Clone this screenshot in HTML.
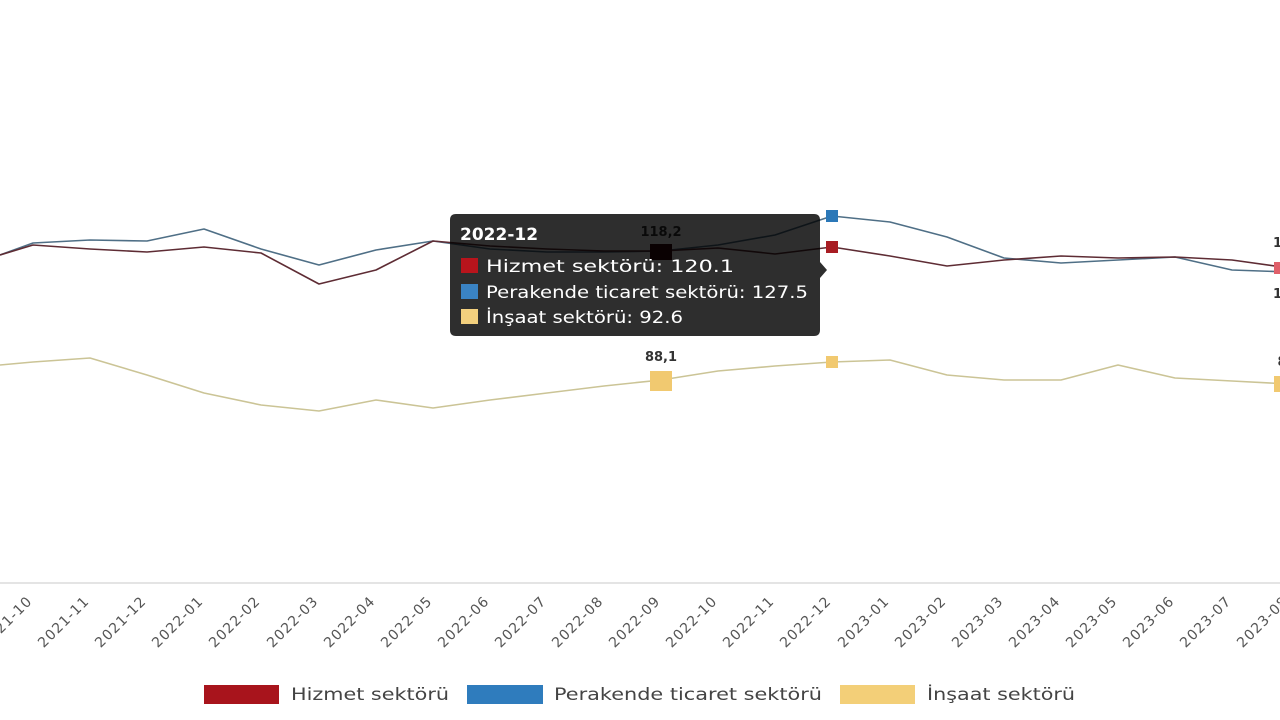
<!DOCTYPE html>
<html><head><meta charset="utf-8"><style>
html,body{margin:0;padding:0;background:#fff;width:1280px;height:720px;overflow:hidden}
svg{display:block;font-family:"DejaVu Sans","Liberation Sans",sans-serif}
</style></head><body>
<svg width="1280" height="720" viewBox="0 0 1280 720">
<line x1="0" y1="583" x2="1280" y2="583" stroke="#e4e4e4" stroke-width="2"/>
<g fill="none" stroke-width="1.6" stroke-linejoin="round">
<polyline stroke="#4f6f86" points="0,255 33,243 90,240 147,241 204,229 261,249 319,265 376,250 433,241 490,249 547,252 604,252 661,251 718,245 775,235 832,216 890,222 947,237 1004,258 1061,263 1118,260 1175,257 1232,270 1289,272"/>
<polyline stroke="#5e2c34" points="0,255 33,245 90,249 147,252 204,247 261,253 319,284 376,270 433,241 490,246 547,249 604,251 661,251 718,248 775,254 832,247 890,256 947,266 1004,260 1061,256 1118,258 1175,257 1232,260 1289,268"/>
<polyline stroke="#cbc496" points="0,365 33,362 90,358 147,375 204,393 261,405 319,411 376,400 433,408 490,400 547,393 604,386 661,380 718,371 775,366 832,362 890,360 947,375 1004,380 1061,380 1118,365 1175,378 1232,381 1289,384"/>
</g>
<rect x="650" y="371" width="22" height="20" fill="#f1c970"/>
<rect x="826" y="356" width="12" height="12" fill="#f1c970"/>
<rect x="826" y="210" width="12" height="12" fill="#2b78b8"/>
<rect x="826" y="241" width="12" height="12" fill="#a81c22"/>
<rect x="1274" y="262" width="12" height="12" fill="#e0606a"/>
<rect x="1274" y="376" width="12" height="16" fill="#f1c970"/>
<rect x="650" y="244" width="22" height="16" fill="#3a0a0e"/>
<g font-size="13" font-weight="bold" fill="#333" text-anchor="middle">
<text x="661" y="361">88,1</text>
<text x="661" y="236">118,2</text>
<text x="1282" y="247">11</text>
<text x="1282" y="298">11</text>
<text x="1282" y="366">8</text>
</g>
<path d="M456,214 H814 Q820,214 820,220 V262 L827,270 L820,278 V330 Q820,336 814,336 H456 Q450,336 450,330 V220 Q450,214 456,214 Z" fill="rgba(0,0,0,0.82)"/>
<g fill="#fff" font-size="17">
<text x="460" y="240" font-weight="bold">2022-12</text>
<rect x="461" y="258" width="17" height="15" fill="#b8141c"/>
<text x="486" y="272" textLength="248" lengthAdjust="spacingAndGlyphs">Hizmet sektörü: 120.1</text>
<rect x="461" y="284" width="17" height="15" fill="#3a83c4"/>
<text x="486" y="298" textLength="322" lengthAdjust="spacingAndGlyphs">Perakende ticaret sektörü: 127.5</text>
<rect x="461" y="309" width="17" height="15" fill="#f3d07e"/>
<text x="486" y="323" textLength="197" lengthAdjust="spacingAndGlyphs">İnşaat sektörü: 92.6</text>
</g>
<g font-size="14" fill="#555" text-anchor="end" letter-spacing="1">
<text transform="translate(33,602) rotate(-45)">2021-10</text>
<text transform="translate(90,602) rotate(-45)">2021-11</text>
<text transform="translate(147,602) rotate(-45)">2021-12</text>
<text transform="translate(204,602) rotate(-45)">2022-01</text>
<text transform="translate(261,602) rotate(-45)">2022-02</text>
<text transform="translate(319,602) rotate(-45)">2022-03</text>
<text transform="translate(376,602) rotate(-45)">2022-04</text>
<text transform="translate(433,602) rotate(-45)">2022-05</text>
<text transform="translate(490,602) rotate(-45)">2022-06</text>
<text transform="translate(547,602) rotate(-45)">2022-07</text>
<text transform="translate(604,602) rotate(-45)">2022-08</text>
<text transform="translate(661,602) rotate(-45)">2022-09</text>
<text transform="translate(718,602) rotate(-45)">2022-10</text>
<text transform="translate(775,602) rotate(-45)">2022-11</text>
<text transform="translate(832,602) rotate(-45)">2022-12</text>
<text transform="translate(890,602) rotate(-45)">2023-01</text>
<text transform="translate(947,602) rotate(-45)">2023-02</text>
<text transform="translate(1004,602) rotate(-45)">2023-03</text>
<text transform="translate(1061,602) rotate(-45)">2023-04</text>
<text transform="translate(1118,602) rotate(-45)">2023-05</text>
<text transform="translate(1175,602) rotate(-45)">2023-06</text>
<text transform="translate(1232,602) rotate(-45)">2023-07</text>
<text transform="translate(1289,602) rotate(-45)">2023-08</text>
</g>
<g font-size="17" fill="#444">
<rect x="204" y="685" width="75" height="19" fill="#a8141c"/>
<text x="291" y="700" textLength="158" lengthAdjust="spacingAndGlyphs">Hizmet sektörü</text>
<rect x="467" y="685" width="76" height="19" fill="#2f7cbd"/>
<text x="554" y="700" textLength="268" lengthAdjust="spacingAndGlyphs">Perakende ticaret sektörü</text>
<rect x="840" y="685" width="75" height="19" fill="#f3cf78"/>
<text x="927" y="700" textLength="148" lengthAdjust="spacingAndGlyphs">İnşaat sektörü</text>
</g>
</svg>
</body></html>
